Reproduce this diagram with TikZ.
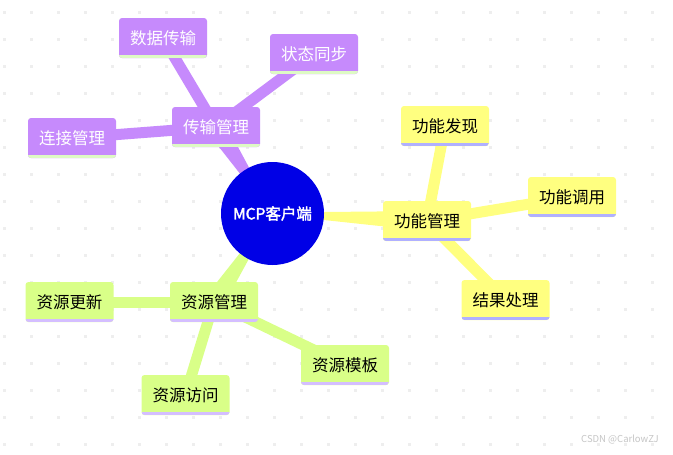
\documentclass[tikz,border=0pt]{standalone}
\usepackage{fontspec}
\setmainfont{Noto Sans CJK SC}[AutoFakeBold=2]
\usetikzlibrary{calc,backgrounds}
\definecolor{purplebox}{RGB}{198,138,252}
\definecolor{purpleline}{RGB}{222,250,196}
\definecolor{yellowbox}{RGB}{255,255,128}
\definecolor{yellowline}{RGB}{176,176,255}
\definecolor{greenbox}{RGB}{217,255,136}
\definecolor{greenline}{RGB}{212,190,255}
\definecolor{rootblue}{RGB}{0,0,230}
\definecolor{griddot}{RGB}{238,238,238}
\tikzset{
  topic/.style={rounded corners=3pt, minimum width=88pt, minimum height=40pt,
    inner sep=0pt, font=\fontsize{16.5}{18}\selectfont,
    path picture={\fill[#1, sharp corners]
      ([yshift=3pt]path picture bounding box.south west) rectangle
      (path picture bounding box.south east);}
  },
  purpletopic/.style={topic=purpleline, fill=purplebox, text=white},
  yellowtopic/.style={topic=yellowline, fill=yellowbox, text=black},
  greentopic/.style={topic=greenline, fill=greenbox, text=black},
  subbranch/.style={line width=11pt},
}
% tapered branch from the root to a main topic
\newcommand{\mainbranch}[3]{
  \fill[#3]
    ($(#1.center)!1pt!90:(#2.center)$) --
    ($(#2.center)!10pt!-90:(#1.center)$) --
    ($(#2.center)!10pt!90:(#1.center)$) --
    ($(#1.center)!1pt!-90:(#2.center)$) -- cycle;
}
\begin{document}
\begin{tikzpicture}[x=1pt,y=-1pt]
\useasboundingbox (0,0) rectangle (673,455);
\node [circle, fill=rootblue, text=white, minimum size=103pt, inner sep=0pt,
  font=\fontsize{15.5}{18}\selectfont\bfseries] (root) at (272.5,213.5) {MCP客户端};
% transfer
\node [purpletopic] (cs) at (216,127) {传输管理};
\node [purpletopic] (cs1) at (163,38) {数据传输};
\node [purpletopic] (cs2) at (314,54) {状态同步};
\node [purpletopic] (cs3) at (72,138) {连接管理};
% functions
\node [yellowtopic] (gn) at (427,221) {功能管理};
\node [yellowtopic] (gn1) at (445,126) {功能发现};
\node [yellowtopic] (gn2) at (572,197) {功能调用};
\node [yellowtopic] (gn3) at (505.5,300) {结果处理};
% resources
\node [greentopic] (zy) at (214,302) {资源管理};
\node [greentopic] (zy1) at (69.5,302) {资源更新};
\node [greentopic] (zy2) at (185.5,395) {资源访问};
\node [greentopic] (zy3) at (345,365) {资源模板};
\node [text=gray!45, font=\fontsize{9.5}{11}\selectfont] (mark) at (620,440) {CSDN @CarlowZJ};
\begin{scope}[on background layer]
\fill[white] (0,0) rectangle (673,455);
\foreach \i in {0,...,24}
  \foreach \j in {0,...,16}
    \fill[griddot] (4.5+27*\i-1.5,12+27*\j-1.5) rectangle ++(3,3);
\mainbranch{root}{cs}{purplebox}
\mainbranch{root}{gn}{yellowbox}
\mainbranch{root}{zy}{greenbox}
\draw[subbranch, purplebox] (cs.center) -- (cs1.center);
\draw[subbranch, purplebox] (cs.center) -- (cs2.center);
\draw[subbranch, purplebox] (cs.center) -- (cs3.center);
\draw[subbranch, yellowbox] (gn.center) -- (gn1.center);
\draw[subbranch, yellowbox] (gn.center) -- (gn2.center);
\draw[subbranch, yellowbox] (gn.center) -- (gn3.center);
\draw[subbranch, greenbox] (zy.center) -- (zy1.center);
\draw[subbranch, greenbox] (zy.center) -- (zy2.center);
\draw[subbranch, greenbox] (zy.center) -- (zy3.center);
\end{scope}
\end{tikzpicture}
\end{document}
